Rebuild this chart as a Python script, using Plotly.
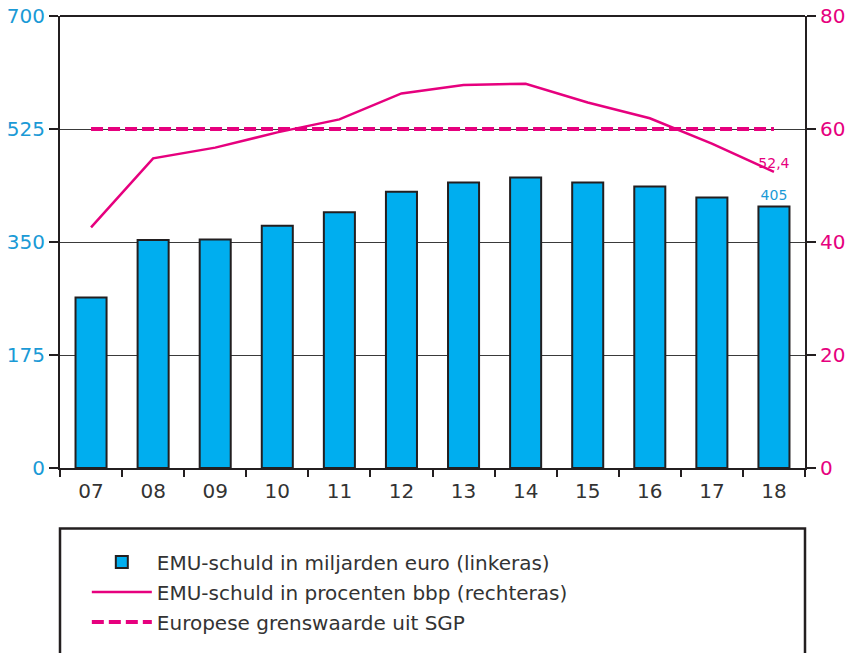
import plotly.graph_objects as go

years = ["07", "08", "09", "10", "11", "12", "13", "14", "15", "16", "17", "18"]
debt_bn = [264, 353, 354, 375, 396, 428, 442, 450, 442, 436, 419, 405]
debt_pct = [42.6, 54.8, 56.7, 59.4, 61.7, 66.3, 67.8, 68.0, 64.7, 61.9, 57.4, 52.4]
sgp_limit = [60] * len(years)
left_ticks = [0, 175, 350, 525, 700]
right_ticks = [0, 20, 40, 60, 80]

BLUE = "#00AEEF"
BLUE_TXT = "#1A9AD6"
MAG = "#E6007E"
DARK = "#231F20"
FONT = "DejaVu Sans"

bar_text = [""] * (len(years) - 1) + [str(debt_bn[-1])]
line_text = [""] * (len(years) - 1) + [f"{debt_pct[-1]:.1f}".replace(".", ",")]

# body margin is removed in the page (post_script), so figure px == window px
PLOT_L, PLOT_R, PLOT_T, PLOT_B = 60, 805, 16, 471
BOX_TOP = 532
W, H = 850, 653

fig = go.Figure()
fig.add_trace(go.Bar(
    x=years, y=debt_bn, name="EMU-schuld in miljarden euro (linkeras)",
    marker=dict(color=BLUE, line=dict(color=DARK, width=2)),
    width=0.5, text=bar_text, textposition="outside", cliponaxis=False,
    textfont=dict(color=BLUE_TXT, size=14, family=FONT),
    legendgroup="a", yaxis="y",
))
fig.add_trace(go.Scatter(
    x=years, y=debt_pct, name="EMU-schuld in procenten bbp (rechteras)",
    mode="lines+text", line=dict(color=MAG, width=2.5),
    text=line_text, textposition="top center",
    textfont=dict(color=MAG, size=14, family=FONT),
    legendgroup="b", yaxis="y2", cliponaxis=False,
))
fig.add_trace(go.Scatter(
    x=years, y=sgp_limit, name="Europese grenswaarde uit SGP",
    mode="lines", line=dict(color=MAG, width=4, dash="12px,5px"),
    legendgroup="c", yaxis="y2",
))

plot_h = PLOT_B - PLOT_T

fig.update_layout(
    width=W, height=H,
    margin=dict(l=PLOT_L, r=W - PLOT_R, t=PLOT_T, b=H - PLOT_B),
    paper_bgcolor="white", plot_bgcolor="white",
    font=dict(family=FONT, size=20, color="#333333"),
    bargap=0.5,
    xaxis=dict(
        type="category", range=[-0.5, 11.5], showline=True, linecolor=DARK, linewidth=2,
        mirror=False, ticks="outside", tickson="boundaries", ticklen=7, tickwidth=1.5,
        tickcolor=DARK, showgrid=False, tickfont=dict(size=20, color="#333333"),
        ticklabelstandoff=4, ticklabeloverflow="allow", automargin=False, fixedrange=True,
    ),
    yaxis=dict(
        range=[0, 700], tickvals=left_ticks, showline=True, linecolor=DARK, linewidth=2,
        ticks="outside", ticklen=9, tickwidth=1.5, tickcolor=DARK,
        showgrid=True, gridcolor="#3a3a3a", gridwidth=1, zeroline=False,
        tickfont=dict(size=20, color=BLUE_TXT), ticklabeloverflow="allow", automargin=False,
    ),
    yaxis2=dict(
        range=[0, 80], tickvals=right_ticks, overlaying="y", side="right",
        showline=True, linecolor=DARK, linewidth=2,
        ticks="outside", ticklen=9, tickwidth=1.5, tickcolor=DARK,
        showgrid=False, zeroline=False, tickfont=dict(size=20, color=MAG),
        ticklabeloverflow="allow", automargin=False,
    ),
    showlegend=True,
    legend=dict(
        x=0.036, y=-0.165, xanchor="left", yanchor="top",
        traceorder="grouped", tracegroupgap=1, itemwidth=60,
        font=dict(size=20, color="#333333", family=FONT),
        bgcolor="rgba(0,0,0,0)",
    ),
    shapes=[
        dict(type="line", xref="paper", yref="paper", x0=0, x1=1, y0=1, y1=1,
             line=dict(color=DARK, width=2)),
        dict(type="rect", xref="paper", yref="paper", x0=0, x1=1,
             y0=-0.5, y1=(PLOT_B - BOX_TOP) / plot_h, line=dict(color=DARK, width=2.5)),
    ],
)

fig.write_html(
    "out.html",
    config={"displayModeBar": False},
    post_script="document.body.style.margin='0px';",
)
